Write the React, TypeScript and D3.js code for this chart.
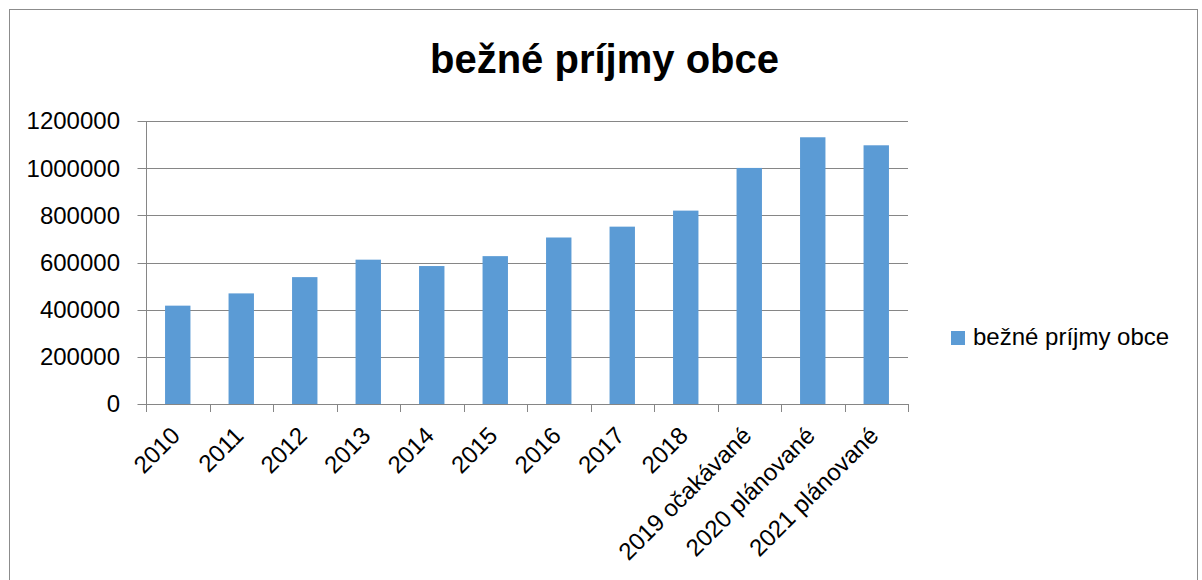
import React from "react";
import * as d3 from "d3";

const categories: string[] = [
  "2010", "2011", "2012", "2013", "2014", "2015", "2016", "2017", "2018",
  "2019 očakávané", "2020 plánované", "2021 plánované",
];
const values: number[] = [
  417000, 469000, 538000, 612000, 585000, 627000, 706000, 752000, 820000,
  1001000, 1131000, 1097000,
];
const yTicks: number[] = [0, 200000, 400000, 600000, 800000, 1000000, 1200000];
const title = "bežné príjmy obce";
const seriesName = "bežné príjmy obce";

const W = 1202;
const H = 580;
const FONT = "'Liberation Sans', Arial, sans-serif";
const BAR = "#5B9BD5";
const GRID = "#868686";

export default function App() {
  const x = d3.scaleBand<string>().domain(categories).range([146, 908]).paddingInner(0.6).paddingOuter(0.3);
  const y = d3.scaleLinear().domain([0, 1200000]).range([404, 121]);
  const step = x.step();
  const left = 146;
  const right = 908;
  const boundaries = d3.range(categories.length + 1).map((i) => left + i * step);

  return (
    <svg
      width={W}
      height={H}
      style={{ position: "absolute", left: 0, top: 0, background: "#fff" }}
    >
      <rect x={9.5} y={9.5} width={1188} height={620} fill="#fff" stroke="#8c8c8c" strokeWidth={1} />
      <text x={604.5} y={73} textAnchor="middle" fontFamily={FONT} fontWeight="bold" fontSize={40} fill="#000">
        {title}
      </text>
      {/* gridlines and y ticks */}
      {yTicks.map((t) => (
        <g key={t}>
          <line x1={137.5} x2={right} y1={Math.round(y(t)) + 0.5} y2={Math.round(y(t)) + 0.5} stroke={GRID} strokeWidth={1} />
          <text x={120} y={y(t)} dy="0.35em" textAnchor="end" fontFamily={FONT} fontSize={24} fill="#000">
            {d3.format("d")(t)}
          </text>
        </g>
      ))}
      {/* bars */}
      {categories.map((c, i) => (
        <rect key={c} x={x(c)} y={y(values[i])} width={x.bandwidth()} height={y(0) - y(values[i])} fill={BAR} />
      ))}
      {/* y axis */}
      <line x1={left + 0.5} x2={left + 0.5} y1={y(1200000)} y2={412} stroke={GRID} strokeWidth={1} />
      {/* x axis */}
      <line x1={left} x2={right} y1={Math.round(y(0)) + 0.5} y2={Math.round(y(0)) + 0.5} stroke={GRID} strokeWidth={1} />
      {boundaries.map((b, i) => (
        <line key={i} x1={Math.round(b) + 0.5} x2={Math.round(b) + 0.5} y1={y(0)} y2={412} stroke={GRID} strokeWidth={1} />
      ))}
      {categories.map((c) => {
        const cx = (x(c) as number) + x.bandwidth() / 2 + 3.75;
        return (
          <text
            key={c}
            transform={`translate(${cx},437) rotate(-45)`}
            textAnchor="end"
            fontFamily={FONT}
            fontSize={24}
            fill="#000"
          >
            {c}
          </text>
        );
      })}
      {/* legend */}
      <rect x={951} y={331} width={14} height={14} fill={BAR} />
      <text x={973} y={345} fontFamily={FONT} fontSize={24} fill="#000">
        {seriesName}
      </text>
    </svg>
  );
}
